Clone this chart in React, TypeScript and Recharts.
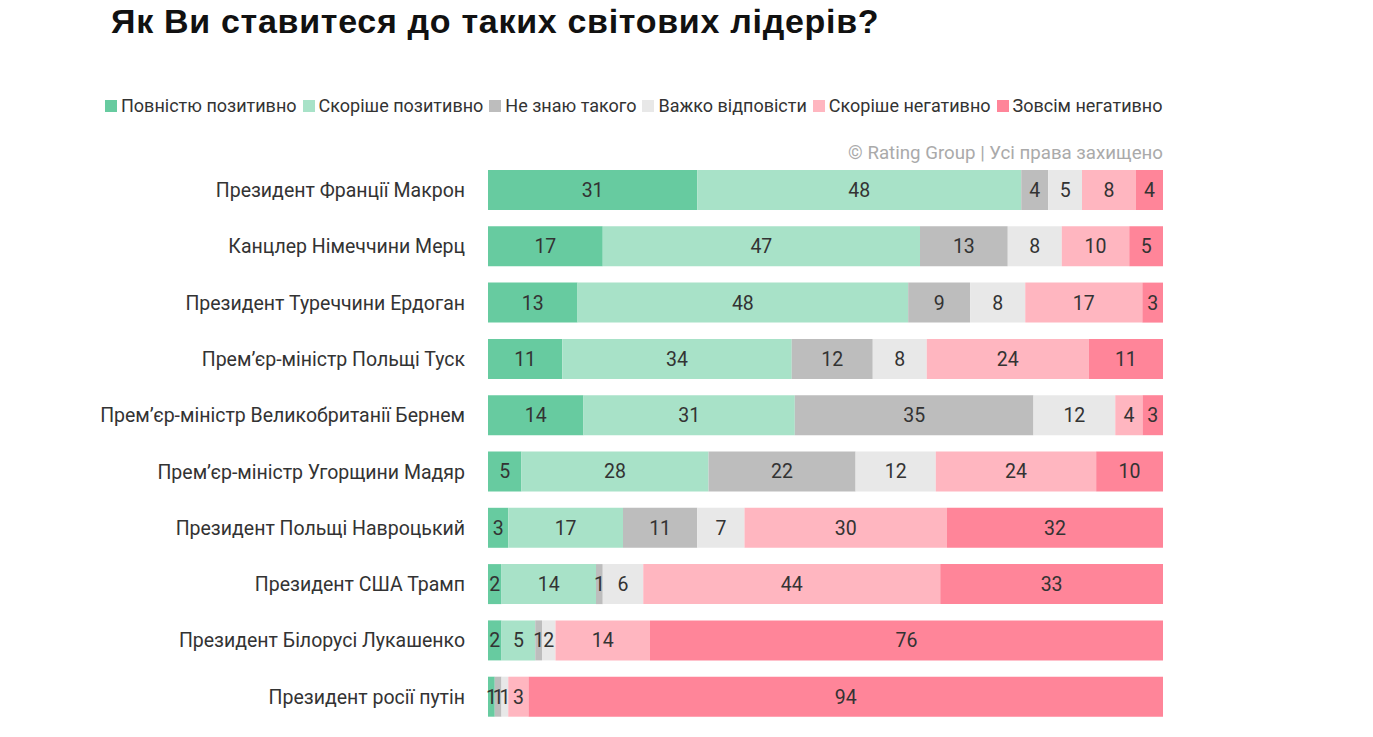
import React from 'react';
import { BarChart, Bar, XAxis, YAxis, LabelList } from 'recharts';

const leaders = [
  'Президент Франції Макрон',
  'Канцлер Німеччини Мерц',
  'Президент Туреччини Ердоган',
  'Прем’єр-міністр Польщі Туск',
  'Прем’єр-міністр Великобританії Бернем',
  'Прем’єр-міністр Угорщини Мадяр',
  'Президент Польщі Навроцький',
  'Президент США Трамп',
  'Президент Білорусі Лукашенко',
  'Президент росії путін',
];

const fullyPositive = [31, 17, 13, 11, 14, 5, 3, 2, 2, 1];
const ratherPositive = [48, 47, 48, 34, 31, 28, 17, 14, 5, 0];
const dontKnow = [4, 13, 9, 12, 35, 22, 11, 1, 1, 1];
const hardToSay = [5, 8, 8, 8, 12, 12, 7, 6, 2, 1];
const ratherNegative = [8, 10, 17, 24, 4, 24, 30, 44, 14, 3];
const fullyNegative = [4, 5, 3, 11, 3, 10, 32, 33, 76, 94];

const series = [
  { key: 'fp', name: 'Повністю позитивно', values: fullyPositive, color: '#67cba0' },
  { key: 'rp', name: 'Скоріше позитивно', values: ratherPositive, color: '#a8e2c8' },
  { key: 'dk', name: 'Не знаю такого', values: dontKnow, color: '#bdbdbd' },
  { key: 'hs', name: 'Важко відповісти', values: hardToSay, color: '#e8e8e8' },
  { key: 'rn', name: 'Скоріше негативно', values: ratherNegative, color: '#ffb6c0' },
  { key: 'fn', name: 'Зовсім негативно', values: fullyNegative, color: '#ff8599' },
];

const data = leaders.map((name, i) => {
  const row: Record<string, string | number> = { name };
  series.forEach((s) => {
    row[s.key] = s.values[i];
  });
  return row;
});

const FONT = 'Roboto, sans-serif';

export default function App() {
  return (
    <div style={{ position: 'absolute', left: 0, top: 0, width: 1373, height: 737, background: '#fff' }}>
      <div
        style={{
          position: 'absolute',
          left: 111,
          top: 2,
          fontFamily: '"Liberation Sans", Arial, sans-serif',
          fontWeight: 700,
          fontSize: 34,
          letterSpacing: 0.7,
          color: '#111',
          whiteSpace: 'nowrap',
        }}
      >
        Як Ви ставитеся до таких світових лідерів?
      </div>

      {/* legend */}
      <div
        style={{
          position: 'absolute',
          left: 105,
          top: 95,
          display: 'flex',
          alignItems: 'center',
          fontFamily: FONT,
          fontSize: 18,
          color: '#333',
          whiteSpace: 'nowrap',
        }}
      >
        {series.map((s) => (
          <div key={s.key} style={{ display: 'flex', alignItems: 'center', marginRight: 6 }}>
            <span style={{ width: 12, height: 12, background: s.color, display: 'inline-block', marginRight: 4 }} />
            <span>{s.name}</span>
          </div>
        ))}
      </div>

      <div
        style={{
          position: 'absolute',
          right: 1373 - 1163,
          top: 142,
          fontFamily: FONT,
          fontSize: 18.7,
          color: '#aaa',
          whiteSpace: 'nowrap',
        }}
      >
        © Rating Group | Усі права захищено
      </div>

      <BarChart
        width={1373}
        height={737}
        data={data}
        layout="vertical"
        stackOffset="expand"
        barSize={40}
        margin={{ top: 162, right: 210, bottom: 12, left: 0 }}
        style={{ position: 'absolute', left: 0, top: 0 }}
      >
        <XAxis type="number" hide domain={[0, 1]} />
        <YAxis
          type="category"
          dataKey="name"
          width={488}
          axisLine={false}
          tickLine={false}
          tickSize={0}
          tickMargin={23}
          tick={{ fontFamily: FONT, fontSize: 19.5, fill: '#333' }}
        />
        {series.map((s) => (
          <Bar key={s.key} dataKey={s.key} name={s.name} stackId="a" fill={s.color} isAnimationActive={false}>
            <LabelList
              dataKey={s.key}
              position="center"
              formatter={(v: number) => (v ? v : '')}
              style={{ fontFamily: FONT, fontSize: 19.5, fill: '#333' }}
            />
          </Bar>
        ))}
      </BarChart>
    </div>
  );
}
